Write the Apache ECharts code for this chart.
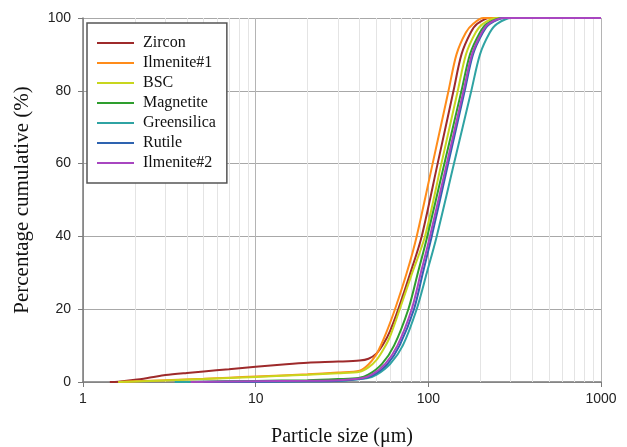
<!DOCTYPE html>
<html>
<head>
<meta charset="utf-8">
<script src="https://cdn.jsdelivr.net/npm/echarts@6/dist/echarts.min.js"></script>
<style>
  html, body { margin: 0; padding: 0; background: #ffffff; }
  #chart { width: 627px; height: 447px; }
</style>
</head>
<body>
<div id="chart"></div>
<script>
// Cumulative particle size distributions (size in µm, cumulative %)
const zirconSize = [1.43, 1.6, 2, 2.5, 3, 4, 5, 7, 10, 15, 20, 30, 40, 45, 50, 55, 60, 67, 80, 91.5, 113.2, 139.9, 155.6, 176, 192, 227, 1000];
const zirconPct  = [0, 0.1, 0.6, 1.3, 1.9, 2.5, 2.9, 3.5, 4.2, 4.9, 5.3, 5.6, 5.9, 6.4, 7.8, 10.5, 14, 20, 31, 40, 60, 80, 90, 96, 98.4, 100, 100];

const ilmenite1Size = [1.6, 2, 3, 5, 7, 10, 20, 30, 40, 45, 50, 53, 57, 64.1, 75, 85.6, 105.9, 130.9, 145.6, 165, 182, 208, 1000];
const ilmenite1Pct  = [0, 0.2, 0.5, 0.9, 1.2, 1.5, 2.1, 2.6, 3.1, 4.8, 7.6, 10, 13.5, 20, 30, 40, 60, 80, 90, 96, 98.4, 100, 100];

const bscSize = [1.6, 2, 3, 5, 7, 10, 20, 30, 40, 45, 50, 55, 60, 68.3, 80, 95.6, 119, 148.1, 165.2, 188, 207, 250, 1000];
const bscPct  = [0, 0.15, 0.4, 0.8, 1.1, 1.4, 2.0, 2.4, 2.8, 4.0, 6.0, 9.0, 12.5, 20, 29.5, 40, 60, 80, 90, 96, 98.4, 100, 100];

const magnetiteSize = [4, 10, 20, 30, 39.4, 44.9, 53.9, 63.3, 76.6, 87, 98.6, 123.9, 155.6, 174.3, 199, 218, 271, 1000];
const magnetitePct  = [0, 0.3, 0.5, 0.8, 1.1, 2, 5, 10, 20, 30, 40, 60, 80, 90, 96, 98.4, 100, 100];

const greensilicaSize = [3.4, 10, 20, 30, 44, 50.2, 60.2, 71.1, 85.6, 98, 111.8, 140.8, 177.4, 199.2, 227, 250, 304, 1000];
const greensilicaPct  = [0, 0.1, 0.2, 0.3, 1.0, 2, 5, 10, 20, 30, 40, 60, 80, 90, 96, 98.4, 100, 100];

const rutileSize = [5, 10, 20, 30, 42.4, 48.4, 58.1, 68.1, 82.6, 93, 104.6, 130.3, 162.4, 181.4, 207, 227, 278, 1000];
const rutilePct  = [0, 0.1, 0.2, 0.35, 1.0, 2, 5, 10, 20, 30, 40, 60, 80, 90, 96, 98.4, 100, 100];

const ilmenite2Size = [4.2, 10, 20, 30, 41.1, 47, 56.3, 66.2, 80.1, 90.5, 102.2, 127.9, 160, 179, 204, 223, 275, 1000];
const ilmenite2Pct  = [0, 0.2, 0.35, 0.5, 1.0, 2, 5, 10, 20, 30, 40, 60, 80, 90, 96, 98.4, 100, 100];

const seriesNames = ['Zircon', 'Ilmenite#1', 'BSC', 'Magnetite', 'Greensilica', 'Rutile', 'Ilmenite#2'];
const seriesColors = ['#9e2a2b', '#ff8c1a', '#c8d61e', '#2e9e2e', '#2fa3a3', '#2e63b0', '#a846c0'];
const seriesSizes = [zirconSize, ilmenite1Size, bscSize, magnetiteSize, greensilicaSize, rutileSize, ilmenite2Size];
const seriesPcts = [zirconPct, ilmenite1Pct, bscPct, magnetitePct, greensilicaPct, rutilePct, ilmenite2Pct];

// Minor log gridlines (2..9 within each decade)
const minorGrid = [2, 3, 4, 5, 6, 7, 8, 9, 20, 30, 40, 50, 60, 70, 80, 90, 200, 300, 400, 500, 600, 700, 800, 900];

const yTicks = [0, 20, 40, 60, 80, 100];

const chart = echarts.init(document.getElementById('chart'), null, { renderer: 'canvas' });

const dataSeries = seriesNames.map((name, i) => ({
  name: name,
  type: 'line',
  z: 3,
  smooth: 0.3,
  symbol: 'none',
  lineStyle: { color: seriesColors[i], width: 2 },
  itemStyle: { color: seriesColors[i] },
  data: seriesSizes[i].map((s, k) => [s, seriesPcts[i][k]])
}));

const option = {
  animation: false,
  backgroundColor: '#ffffff',
  grid: { left: 83, right: 26, top: 18, bottom: 65, outerBoundsMode: 'none', containLabel: false },
  legend: {
    data: seriesNames,
    z: 10,
    orient: 'vertical',
    left: 87,
    top: 23,
    icon: 'rect',
    itemWidth: 37,
    itemHeight: 2,
    itemGap: 4,
    padding: [12, 11, 12, 10],
    backgroundColor: '#ffffff',
    borderColor: '#555555',
    borderWidth: 1.5,
    borderRadius: 0,
    textStyle: { fontFamily: 'Liberation Serif', fontSize: 16, color: '#111111', padding: [0, 0, 0, 4] }
  },
  xAxis: {
    type: 'log',
    logBase: 10,
    min: 1,
    max: 1000,
    name: 'Particle size (\u03bcm)',
    nameLocation: 'middle',
    nameGap: 45,
    nameTextStyle: { fontFamily: 'Liberation Serif', fontSize: 20, color: '#111111' },
    axisLine: { show: true, onZero: false, lineStyle: { color: '#7a7a7a', width: 1.5 } },
    axisTick: { show: true, length: 5, lineStyle: { color: '#7a7a7a' } },
    axisLabel: {
      fontFamily: 'Liberation Sans', fontSize: 14, color: '#222222', margin: 10,
      formatter: v => String(Math.round(v))
    },
    splitLine: { show: true, lineStyle: { color: '#b4b4b4', width: 1 } },
    minorTick: { show: false },
    minorSplitLine: { show: false }
  },
  yAxis: {
    type: 'value',
    min: yTicks[0],
    max: yTicks[yTicks.length - 1],
    interval: 20,
    name: 'Percentage cumulative (%)',
    nameLocation: 'middle',
    nameGap: 50,
    nameTextStyle: { fontFamily: 'Liberation Serif', fontSize: 21, color: '#111111' },
    axisLine: { show: true, lineStyle: { color: '#7a7a7a', width: 1.5 } },
    axisTick: { show: true, length: 5, lineStyle: { color: '#7a7a7a' } },
    axisLabel: { fontFamily: 'Liberation Sans', fontSize: 14, color: '#222222', margin: 12 },
    splitLine: { show: true, lineStyle: { color: '#a8a8a8', width: 1 } }
  },
  series: [
    {
      name: 'minor-grid',
      type: 'line',
      z: 1,
      silent: true,
      symbol: 'none',
      data: [],
      markLine: {
        z: 1,
        silent: true,
        symbol: 'none',
        label: { show: false },
        lineStyle: { color: '#e4e4e4', type: 'solid', width: 1 },
        emphasis: { disabled: true },
        data: minorGrid.map(v => ({ xAxis: v }))
      }
    }
  ].concat(dataSeries)
};

chart.setOption(option);
</script>
</body>
</html>
